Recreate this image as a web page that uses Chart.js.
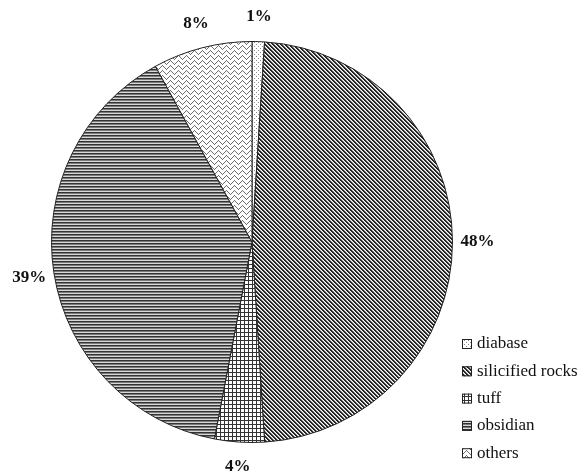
<!DOCTYPE html>
<html>
<head>
<meta charset="utf-8">
<script src="https://cdn.jsdelivr.net/npm/chart.js@4.4.1/dist/chart.umd.min.js"></script>
<style>
  html, body { margin: 0; padding: 0; background: #ffffff; }
  #wrap { width: 583px; height: 475px; }
</style>
</head>
<body>
<div id="wrap"><canvas id="c" width="583" height="475"></canvas></div>
<script>
// Rock types and their share of the assemblage (%)
const categories = ['diabase', 'silicified rocks', 'tuff', 'obsidian', 'others'];
const shares = [1, 48, 4, 39, 8];
const percentLabels = ['1%', '48%', '4%', '39%', '8%'];

// Hatch fills drawn onto small tiles
function tile(w, h, draw) {
  const cv = document.createElement('canvas');
  cv.width = w; cv.height = h;
  const g = cv.getContext('2d');
  g.fillStyle = '#ffffff';
  g.fillRect(0, 0, w, h);
  draw(g);
  return document.getElementById('c').getContext('2d').createPattern(cv, 'repeat');
}

const dots = tile(4, 4, g => {
  g.fillStyle = '#8a8a8a';
  g.fillRect(0, 0, 1, 1);
  g.fillRect(2, 2, 1, 1);
});

const diagonal = tile(4, 4, g => {
  g.fillStyle = '#262626';
  for (let i = 0; i < 4; i++) {
    g.fillRect(i, i, 1, 1);
    g.fillRect((i + 1) % 4, i, 1, 1);
  }
  g.fillStyle = '#b0b0b0';
  for (let i = 0; i < 4; i++) g.fillRect((i + 2) % 4, i, 1, 1);
});

const grid = tile(4, 4, g => {
  g.fillStyle = '#333333';
  g.fillRect(0, 0, 4, 1);
  g.fillRect(0, 0, 1, 4);
});

const horizontal = tile(1, 3, g => {
  g.fillStyle = '#333333';
  g.fillRect(0, 0, 1, 1);
  g.fillStyle = '#7a7a7a';
  g.fillRect(0, 1, 1, 1);
  g.fillStyle = '#d8d8d8';
  g.fillRect(0, 2, 1, 1);
});

const wave = tile(8, 5, g => {
  g.fillStyle = '#6e6e6e';
  const ys = [2, 1, 0, 1, 2, 3, 4, 3];
  for (let x = 0; x < 8; x++) g.fillRect(x, ys[x], 1, 1);
});

const fills = [dots, diagonal, grid, horizontal, wave];

// Percentage labels just outside the rim, on each slice's mid-angle
const outerLabels = {
  id: 'outerLabels',
  afterDatasetsDraw(chart) {
    const ctx = chart.ctx;
    const meta = chart.getDatasetMeta(0);
    ctx.save();
    ctx.font = 'bold 17px "Liberation Serif", "Times New Roman", serif';
    ctx.fillStyle = '#111111';
    ctx.textAlign = 'center';
    ctx.textBaseline = 'middle';
    meta.data.forEach((arc, i) => {
      const p = arc.getProps(['x', 'y', 'startAngle', 'endAngle', 'outerRadius'], true);
      const mid = (p.startAngle + p.endAngle) / 2;
      const r = p.outerRadius + 25;
      ctx.fillText(percentLabels[i], p.x + Math.cos(mid) * r, p.y + Math.sin(mid) * r);
    });
    ctx.restore();
  }
};

// Key in the lower right corner
const sideKey = {
  id: 'sideKey',
  afterDraw(chart) {
    const ctx = chart.ctx;
    ctx.save();
    ctx.font = '17px "Liberation Serif", "Times New Roman", serif';
    ctx.textBaseline = 'middle';
    ctx.textAlign = 'left';
    categories.forEach((name, i) => {
      const y = 344 + i * 27.3;
      ctx.fillStyle = fills[i];
      ctx.fillRect(462, y - 5, 10, 10);
      ctx.strokeStyle = '#222222';
      ctx.lineWidth = 1;
      ctx.strokeRect(462.5, y - 4.5, 9, 9);
      ctx.fillStyle = '#111111';
      ctx.fillText(name, 477, y);
    });
    ctx.restore();
  }
};

new Chart(document.getElementById('c'), {
  type: 'pie',
  data: {
    labels: categories,
    datasets: [{
      data: shares,
      backgroundColor: fills,
      borderColor: '#222222',
      borderWidth: 1
    }]
  },
  options: {
    responsive: false,
    animation: false,
    layout: { padding: { left: 51, top: 41, right: 130, bottom: 32 } },
    plugins: {
      legend: { display: false },
      tooltip: { enabled: false }
    }
  },
  plugins: [outerLabels, sideKey]
});
</script>
</body>
</html>
